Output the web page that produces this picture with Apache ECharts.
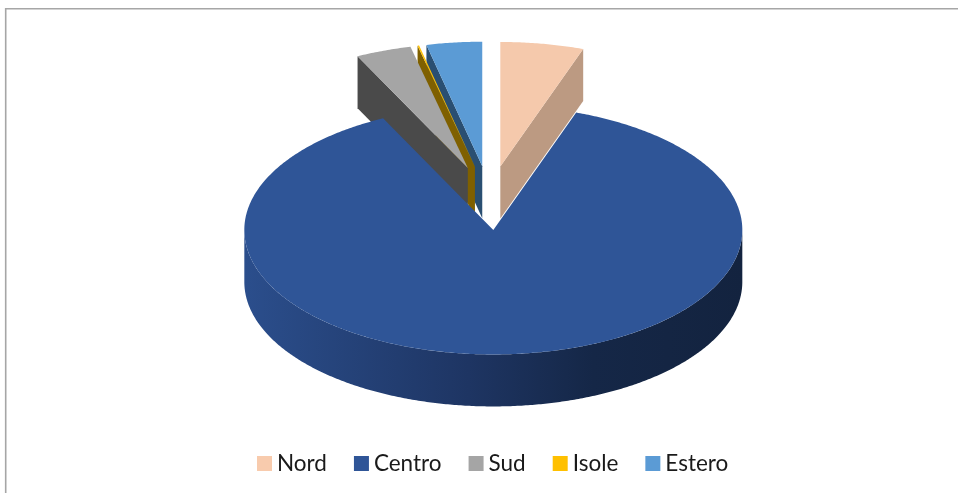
<!DOCTYPE html>
<html>
<head>
<meta charset="utf-8">
<style>html,body{margin:0;padding:0;background:#fff}#c{width:958px;height:493px}</style>
<script src="https://cdn.jsdelivr.net/npm/echarts@6/dist/echarts.min.js"></script>
</head>
<body>
<div id="c"></div>
<script>
const categories = ['Nord', 'Centro', 'Sud', 'Isole', 'Estero'];
const shares = [5.4, 87.3, 3.6, 0.1, 3.6];

const legendColors = ['#F8CBAD', '#2F5597', '#A5A5A5', '#FFC000', '#5B9BD5'];
const topColors = ['#F5C9AC', '#2F5597', '#A5A5A5', '#FFC000', '#5B9BD5'];
const wallColors = ['#BC9A82', '#1E3563', '#4A4A4A', '#7F6000', '#2A4F72'];
const drawOrder = ['Estero', 'Isole', 'Sud', 'Nord', 'Centro'];

const pie = { cx: 489.5, cy: 198, rx: 249, ry: 124.5, depth: 52, explode: 0.257 };

const total = shares.reduce((a, b) => a + b, 0);
const toRad = Math.PI / 180;

function sliceRange(i) {
  let start = 0;
  for (let k = 0; k < i; k++) start += shares[k] / total * 360;
  return [start, start + shares[i] / total * 360];
}

function renderSlice(i) {
  const [a0, a1] = sliceRange(i);
  const mid = (a0 + a1) / 2 * toRad;
  const ox = pie.cx + pie.explode * pie.rx * Math.sin(mid);
  const oy = pie.cy - pie.explode * pie.ry * Math.cos(mid);
  const pt = (deg, dy) => [
    ox + pie.rx * Math.sin(deg * toRad),
    oy - pie.ry * Math.cos(deg * toRad) + (dy || 0)
  ];
  const arc = (from, to, dy) => {
    const n = Math.max(2, Math.ceil(Math.abs(to - from) * 2));
    const out = [];
    for (let k = 0; k <= n; k++) out.push(pt(from + (to - from) * k / n, dy));
    return out;
  };
  const children = [];
  const poly = (points, fill) => children.push({
    type: 'polygon',
    shape: { points },
    style: { fill, stroke: null }
  });
  const wall = (deg) => poly(
    [[ox, oy], pt(deg), pt(deg, pie.depth), [ox, oy + pie.depth]],
    wallColors[i]
  );

  // outer rim: only the front half of the pie can be seen
  const f0 = Math.max(a0, 90), f1 = Math.min(a1, 270);
  if (f1 > f0) {
    poly(arc(f0, f1, 0).concat(arc(f1, f0, pie.depth)), {
      type: 'linear', x: 0, y: 0, x2: 1, y2: 0,
      colorStops: [
        { offset: 0, color: '#2B4E8C' },
        { offset: 0.45, color: '#1E3563' },
        { offset: 0.7, color: '#152747' },
        { offset: 1, color: '#13233F' }
      ]
    });
  }
  // radial walls of the back slices, on the side facing the viewer
  if (a1 - a0 < 90) wall(a0 < 90 ? a1 : a0);
  // top face
  poly([[ox, oy]].concat(arc(a0, a1, 0)), topColors[i]);
  return { type: 'group', children };
}

const chart = echarts.init(document.getElementById('c'), null, { renderer: 'canvas' });
chart.setOption({
  animation: false,
  backgroundColor: '#fff',
  color: legendColors,
  legend: {
    data: categories,
    left: 257,
    top: 452,
    padding: 0,
    icon: 'rect',
    itemWidth: 15,
    itemHeight: 15,
    itemGap: 27,
    textStyle: { fontFamily: 'Lato', fontSize: 22.5, color: '#1a1a1a' },
    selectedMode: false
  },
  graphic: [
    { type: 'line', shape: { x1: 5.7, y1: 8, x2: 5.7, y2: 493 }, style: { stroke: '#A6A6A6', lineWidth: 1.6 } },
    { type: 'line', shape: { x1: 5, y1: 8.8, x2: 958, y2: 8.8 }, style: { stroke: '#A6A6A6', lineWidth: 1.6 } }
  ],
  series: categories.map((name, i) => ({
    type: 'custom',
    name,
    coordinateSystem: 'none',
    z: 2 + drawOrder.indexOf(name),
    data: [shares[i]],
    itemStyle: { color: legendColors[i] },
    renderItem: () => renderSlice(i)
  }))
});
</script>
</body>
</html>
